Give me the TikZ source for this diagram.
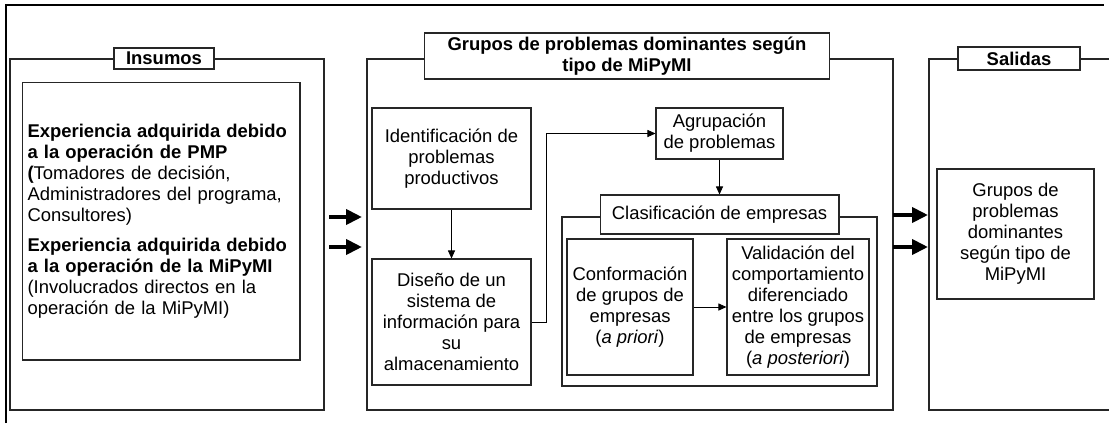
\documentclass[tikz,border=0pt]{standalone}
\usepackage{fontspec}
\setmainfont{Liberation Sans}
\usetikzlibrary{arrows.meta,positioning}

\begin{document}
\begin{tikzpicture}[x=0.02cm, y=-0.02cm,
    txt/.style={font=\fontsize{10.5}{12}\selectfont},
    box/.style={txt, draw=black!85, line width=0.6pt, fill=white, align=center, inner sep=2pt},
    titlebox/.style={box, font=\fontsize{10.5}{12}\selectfont\bfseries},
    panel/.style={draw=black!85, line width=0.6pt},
    flow/.style={-{Triangle[length=0.16cm,width=0.14cm]}, line width=0.5pt},
    bigflow/.style={-{Triangle[length=0.32cm,width=0.3cm]}, line width=2.2pt}]
    \useasboundingbox (0,0) rectangle (1109,423);

    % Outer frame
    \draw[line width=1.2pt] (6,423) -- (6,5) -- (1104,5);

    % Insumos
    \draw[panel] (10,59) rectangle (324,410);
    \node[titlebox, minimum width=2.0cm, minimum height=0.42cm] (insumos) at (164,58.5) {Insumos};
    \node[box, align=left, minimum width=5.56cm, minimum height=5.56cm, text width=5.34cm] (exp) at (161,221)
        {\textbf{Experiencia adquirida debido}\\
         \textbf{a la operación de PMP}\\
         \textbf{(}Tomadores de decisión,\\
         Administradores del programa,\\
         Consultores)\\[5pt]
         \textbf{Experiencia adquirida debido}\\
         \textbf{a la operación de la MiPyMI}\\
         (Involucrados directos en la\\
         operación de la MiPyMI)};

    % Grupos de problemas
    \draw[panel] (367,59) rectangle (893,410);
    \node[titlebox, minimum width=8.12cm, minimum height=0.92cm] (grupos) at (627,56)
        {Grupos de problemas dominantes según\\tipo de MiPyMI};
    \node[box, minimum width=3.18cm, minimum height=2.02cm] (ident) at (451.5,158.5)
        {Identificación de\\problemas\\productivos};
    \node[box, minimum width=3.18cm, minimum height=2.52cm] (diseno) at (451.5,322)
        {Diseño de un\\sistema de\\información para\\su\\almacenamiento};
    \node[box, minimum width=2.54cm, minimum height=1.02cm] (agrup) at (719.5,133.5)
        {Agrupación\\de problemas};

    % Clasificacion
    \draw[panel] (562,217) rectangle (877,386);
    \node[box, minimum width=4.78cm, minimum height=0.78cm] (clasif) at (719.5,214.5)
        {Clasificación de empresas};
    \node[box, minimum width=2.52cm, minimum height=2.72cm] (conf) at (630,307)
        {Conformación\\de grupos de\\empresas\\(\textit{a priori})};
    \node[box, minimum width=2.84cm, minimum height=2.72cm] (valid) at (798,307)
        {Validación del\\comportamiento\\diferenciado\\entre los grupos\\de empresas\\(\textit{a posteriori})};

    \draw[flow] (ident) -- (diseno);
    \draw[flow] (diseno.east) -- ++(15,0) |- (agrup.west);
    \draw[flow] (agrup) -- (clasif);
    \draw[flow] (conf) -- (valid);

    % Salidas
    \draw[panel] (1109,59) -- (929,59) -- (929,410) -- (1109,410);
    \node[titlebox, minimum width=2.44cm, minimum height=0.46cm] (salidas) at (1019,58.5) {Salidas};
    \node[box, minimum width=3.14cm, minimum height=2.6cm] (result) at (1015.5,234)
        {Grupos de\\problemas\\dominantes\\según tipo de\\MiPyMI};

    % Big arrows
    \coordinate (a1) at (329,217);
    \coordinate (a2) at (329,247);
    \coordinate (b1) at (893,215);
    \coordinate (b2) at (893,247);
    \draw[bigflow] (a1) -- ++(33,0);
    \draw[bigflow] (a2) -- ++(33,0);
    \draw[bigflow] (b1) -- ++(35,0);
    \draw[bigflow] (b2) -- ++(35,0);

\end{tikzpicture}
\end{document}
